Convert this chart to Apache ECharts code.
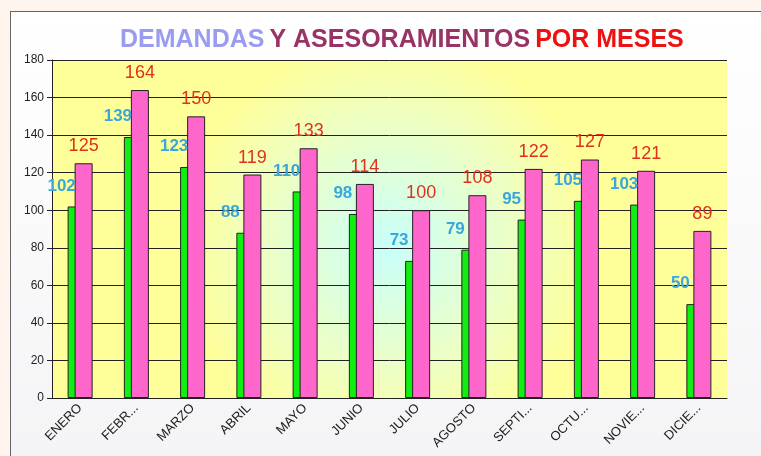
<!DOCTYPE html>
<html>
<head>
<meta charset="utf-8">
<script src="https://cdn.jsdelivr.net/npm/echarts@6/dist/echarts.min.js"></script>
<style>
  html, body {
    margin: 0;
    padding: 0;
    background: #fdf5ee;
    overflow: hidden;
  }
  #chart {
    position: absolute;
    left: 10px;
    top: 11px;
    width: 760px;
    height: 450px;
    border: 1px solid #666;
    background: linear-gradient(#ffffff, #f4f4f6);
  }
</style>
</head>
<body>
<div id="chart"></div>
<script>
  // meses (etiquetas tal como salen recortadas en el original)
  var meses = ['ENERO', 'FEBR...', 'MARZO', 'ABRIL', 'MAYO', 'JUNIO', 'JULIO', 'AGOSTO', 'SEPTI...', 'OCTU...', 'NOVIE...', 'DICIE...'];
  var demandas = [102, 139, 123, 88, 110, 98, 73, 79, 95, 105, 103, 50];
  var asesoramientos = [125, 164, 150, 119, 133, 114, 100, 108, 122, 127, 121, 89];
  var yMin = 0, yMax = 180, yStep = 20;

  var myChart = echarts.init(document.getElementById('chart'));
  var option = {
    animation: false,
    title: {
      text: '{a|DEMANDAS} {b|Y ASESORAMIENTOS} {c|POR MESES}',
      left: 104,
      top: 11,
      textStyle: {
        rich: {
          a: {color: '#9a9cf0', fontSize: 25, fontWeight: 'bold', fontFamily: 'Liberation Sans'},
          b: {color: '#993366', fontSize: 25, fontWeight: 'bold', fontFamily: 'Liberation Sans'},
          c: {color: '#ee1111', fontSize: 25, fontWeight: 'bold', fontFamily: 'Liberation Sans'}
        }
      }
    },
    grid: {
      left: 41,
      top: 48,
      right: 44,
      bottom: 64,
      show: true,
      borderWidth: 0,
      backgroundColor: {
        type: 'radial', x: 0.5, y: 0.55, r: 0.62,
        colorStops: [
          {offset: 0, color: '#c8fffa'},
          {offset: 0.55, color: '#eaffc8'},
          {offset: 1, color: '#ffff99'}
        ]
      }
    },
    xAxis: {
      type: 'category',
      data: meses,
      axisLine: {lineStyle: {color: '#222', width: 1}},
      axisTick: {length: 5, lineStyle: {color: '#222'}},
      axisLabel: {
        rotate: 45,
        interval: 0,
        fontSize: 13,
        color: '#222',
        fontFamily: 'Liberation Sans',
        margin: 8
      }
    },
    yAxis: {
      type: 'value',
      min: yMin,
      max: yMax,
      interval: yStep,
      axisLine: {show: true, lineStyle: {color: '#222', width: 1}},
      axisTick: {show: true, length: 5, lineStyle: {color: '#222'}},
      axisLabel: {fontSize: 12, color: '#222', fontFamily: 'Liberation Sans', margin: 8},
      splitLine: {lineStyle: {color: '#222', width: 1}}
    },
    series: [{
      name: 'Demandas',
      type: 'bar',
      data: demandas,
      barWidth: 18,
      barGap: '-61%',
      itemStyle: {color: '#11ee11', borderColor: '#222', borderWidth: 1},
      label: {
        show: true,
        position: 'top',
        distance: 5,
        offset: [-15, -7],
        color: '#39a6dc',
        fontSize: 17,
        fontWeight: 'bold',
        fontFamily: 'Liberation Sans'
      }
    }, {
      name: 'Asesoramientos',
      type: 'bar',
      data: asesoramientos,
      barWidth: 18,
      itemStyle: {color: '#ff66cc', borderColor: '#222', borderWidth: 1},
      label: {
        show: true,
        position: 'top',
        distance: 8,
        color: '#e0301e',
        fontSize: 18,
        fontFamily: 'Liberation Sans'
      }
    }]
  };
  myChart.setOption(option);
</script>
</body>
</html>
